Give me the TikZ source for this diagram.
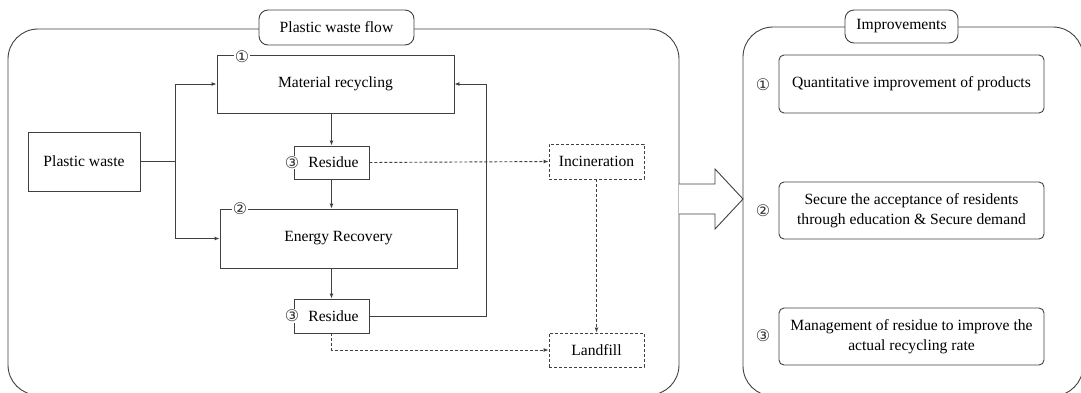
\documentclass[tikz,border=0pt]{standalone}
\usepackage{fontspec}
\setmainfont{Liberation Serif}
\newfontfamily\flowCircFont{DejaVu Sans}
\usetikzlibrary{arrows.meta}
\newcommand{\flowText}{\fontsize{15.6}{19.5}\selectfont}
\newcommand{\flowNum}[1]{{\flowCircFont\fontsize{16}{16}\selectfont #1}}

\begin{document}
\begin{tikzpicture}[x=1pt,y=-1pt,
  flowbox/.style={draw=black!75, line width=0.9pt, inner sep=0pt, font=\rmfamily\flowText},
  dashbox/.style={flowbox, dash pattern=on 3pt off 2pt},
  titlebox/.style={flowbox, rounded corners=9pt, fill=white},
  ideabox/.style={flowbox, rounded corners=5pt, align=center, minimum width=265pt},
  link/.style={draw=black!75, line width=0.9pt, -{Latex[length=5pt,width=4pt]}},
  dashlink/.style={link, dash pattern=on 3pt off 2pt},
  numtag/.style={inner sep=1pt, fill=white, text=black!80}]
\clip (0,0) rectangle (1081,392);
% frames
\draw[black!75, line width=0.9pt, rounded corners=30pt] (8,29) rectangle (679,395);
\draw[black!75, line width=0.9pt, rounded corners=30pt] (743,27) rectangle (1083,396);
\draw[black!75, line width=0.9pt, fill=white]
  (679,184) -- (715,184) -- (715,169) -- (743,199) -- (715,229) -- (715,214) -- (679,214);
\node[titlebox, minimum width=155pt, minimum height=35pt] (flowtitle) at (336.5,27.5) {Plastic waste flow};
\node[titlebox, minimum width=113pt, minimum height=33pt] (ideatitle) at (901.5,26.5) {Improvements};
% plastic waste flow
\node[flowbox, minimum width=112pt, minimum height=59pt] (waste) at (84,161.5) {Plastic waste};
\node[flowbox, minimum width=237pt, minimum height=58pt] (matrec) at (335.5,84) {Material recycling};
\node[flowbox, minimum width=75pt, minimum height=33pt] (resA) at (331.5,162.5) {\hspace{4pt}Residue};
\node[flowbox, minimum width=237pt, minimum height=59pt] (enrec) at (338.5,238.5) {Energy Recovery};
\node[flowbox, minimum width=75pt, minimum height=34pt] (resB) at (331.5,316) {\hspace{4pt}Residue};
\node[dashbox, minimum width=95pt, minimum height=35pt] (incin) at (596.5,161.5) {Incineration};
\node[dashbox, minimum width=95pt, minimum height=34pt] (landfill) at (596.5,350) {Landfill};
\node[numtag] (tagA) at (242,57) {\flowNum{①}};
\node[numtag] (tagB) at (240,209) {\flowNum{②}};
\node[numtag] (tagC) at (292,162.5) {\flowNum{③}};
\node[numtag] (tagD) at (292,316) {\flowNum{③}};
\coordinate (split) at (175,161.5);
\coordinate (back) at (486,84);
\draw[black!75, line width=0.9pt] (waste.east) -- (split);
\draw[link] (split) |- (matrec.west);
\draw[link] (split) |- (enrec.west);
\draw[link] (resA.north |- matrec.south) -- (resA.north);
\draw[link] (resA.south) -- (resA.south |- enrec.north);
\draw[link] (resB.north |- enrec.south) -- (resB.north);
\draw[link] (resB.east) -| (back) -- (matrec.east);
\draw[dashlink] (resA.east) -- (incin.west);
\draw[dashlink] (resB.south) |- (landfill.west);
\draw[dashlink] (incin.south) -- (landfill.north);
% improvements
\node[ideabox, minimum height=58pt] (ideaA) at (911.5,84) {Quantitative improvement of products};
\node[ideabox, minimum height=57pt] (ideaB) at (911.5,210.5) {Secure the acceptance of residents\\through education \& Secure demand};
\node[ideabox, minimum height=57pt] (ideaC) at (911.5,336.5) {Management of residue to improve the\\actual recycling rate};
\node[text=black!80] (numA) at (763,85) {\flowNum{①}};
\node[text=black!80] (numB) at (763,211) {\flowNum{②}};
\node[text=black!80] (numC) at (763,336) {\flowNum{③}};
\end{tikzpicture}
\end{document}
